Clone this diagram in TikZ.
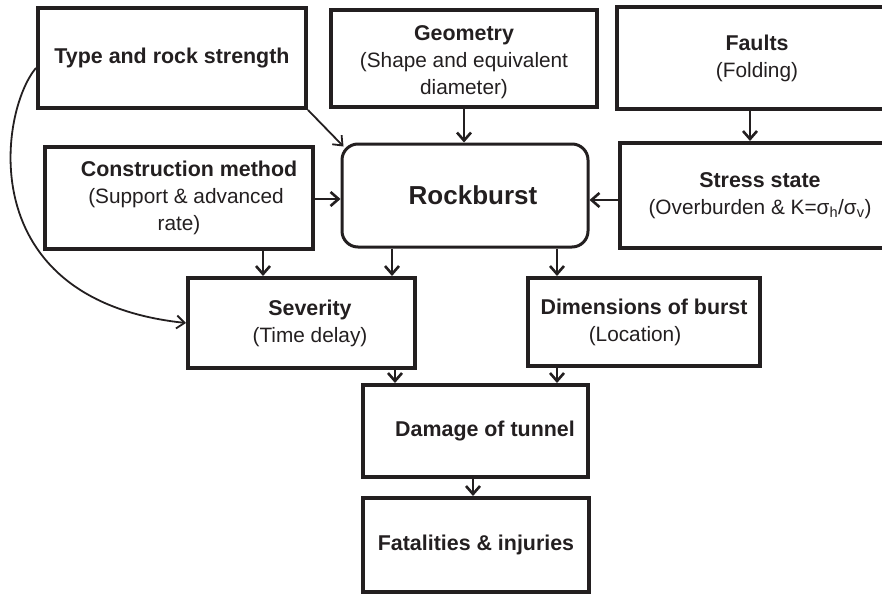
\documentclass[tikz,border=0pt]{standalone}
\usepackage{fontspec}
\setmainfont{Liberation Sans}
\usetikzlibrary{arrows.meta}
\definecolor{ink}{HTML}{231F20}
\begin{document}
\begin{tikzpicture}[x=1pt,y=-1pt,
  every node/.style={text=ink, font=\fontsize{20.8}{27}\selectfont, align=center, inner sep=0pt},
  box/.style={draw=ink, line width=4pt, rectangle},
  arr/.style={draw=ink, line width=2.8pt, -{Straight Barb[length=8pt,width=14pt,line width=2.6pt]}},
  thin arr/.style={draw=ink, line width=1.8pt, -{Straight Barb[length=8pt,width=13pt,line width=1.8pt]}}]
\useasboundingbox (0,0) rectangle (882,594);
\clip (0,0) rectangle (882,594);

\newcommand{\hd}[1]{{\bfseries\fontsize{21.4}{27}\selectfont #1}}

% top row
\node[box, minimum width=268pt, minimum height=100pt] (type) at (172,58)
  {\raisebox{3pt}{\hd{Type and rock strength}}};
\node[box, minimum width=266pt, minimum height=97pt] (geo) at (464,58.5)
  {\raisebox{-4pt}[\height][\depth]{\begin{tabular}{@{}c@{}}\hd{Geometry}\\(Shape and equivalent\\diameter)\end{tabular}}};
\node[box, minimum width=280pt, minimum height=102pt] (faults) at (757,58)
  {\hd{Faults}\\(Folding)};

% middle row
\node[box, minimum width=268pt, minimum height=102pt] (constr) at (179,198)
  {\hspace*{20pt}\hd{Construction method}\\\hspace*{14pt}(Support \& advanced\\rate)};
\node[draw=ink, line width=3pt, rounded corners=16pt, minimum width=246pt, minimum height=103pt] (rb) at (465,195.5)
  {\hspace*{16pt}\bfseries\fontsize{26}{30}\selectfont Rockburst};
\node[box, minimum width=280pt, minimum height=105pt] (stress) at (760,195.5)
  {\hd{Stress state}\\(Overburden \& K=σ\textsubscript{h}/σ\textsubscript{v})};

% consequences
\node[box, minimum width=227pt, minimum height=90pt] (sev) at (301.5,323)
  {\hspace*{17pt}\hd{Severity}\\\hspace*{17pt}(Time delay)};
\node[box, minimum width=232pt, minimum height=88pt] (dim) at (644,322)
  {\hd{Dimensions of burst}\\(Location)\hspace*{18pt}};
\node[box, minimum width=225pt, minimum height=92pt] (dmg) at (475.5,431)
  {\raisebox{4pt}{\hspace*{19pt}\hd{Damage of tunnel}}};
\node[box, minimum width=226pt, minimum height=94pt] (fat) at (476,545)
  {\raisebox{3pt}{\hd{Fatalities \& injuries}}};

% influences on the rockburst
\draw[arr] (geo.south) -- (geo.south |- rb.north);
\draw[arr] ([xshift=-7pt]faults.south) -- ([xshift=-7pt]faults.south |- stress.north);
\draw[arr] ([yshift=-1pt]constr.east) -- ([yshift=-1pt]constr.east -| rb.west);
\draw[arr] ([yshift=-4.5pt]stress.west) -- ([yshift=-4.5pt]stress.west -| rb.east);
\draw[thin arr] (type.south east) -- ([xshift=3pt,yshift=-4pt]rb.north west);

% rockburst outcomes
\draw[arr] ([xshift=84pt]constr.south) -- ([xshift=84pt]constr.south |- sev.north);
\draw[arr] ([xshift=-73pt]rb.south) -- ([xshift=-73pt]rb.south |- sev.north);
\draw[arr] ([xshift=92pt]rb.south) -- ([xshift=92pt]rb.south |- dim.north);
\draw[arr] ([xshift=93.5pt]sev.south) -- ([xshift=93.5pt]sev.south |- dmg.north);
\draw[arr] ([xshift=-87pt]dim.south) -- ([xshift=-87pt]dim.south |- dmg.north);
\draw[arr] ([xshift=-2.5pt]dmg.south) -- ([xshift=-2.5pt]dmg.south |- fat.north);

% rock type also affects severity
\draw[thin arr] ([yshift=-10pt]type.west) .. controls (0,110) and (-30,300) .. (sev.west);
\end{tikzpicture}
\end{document}
